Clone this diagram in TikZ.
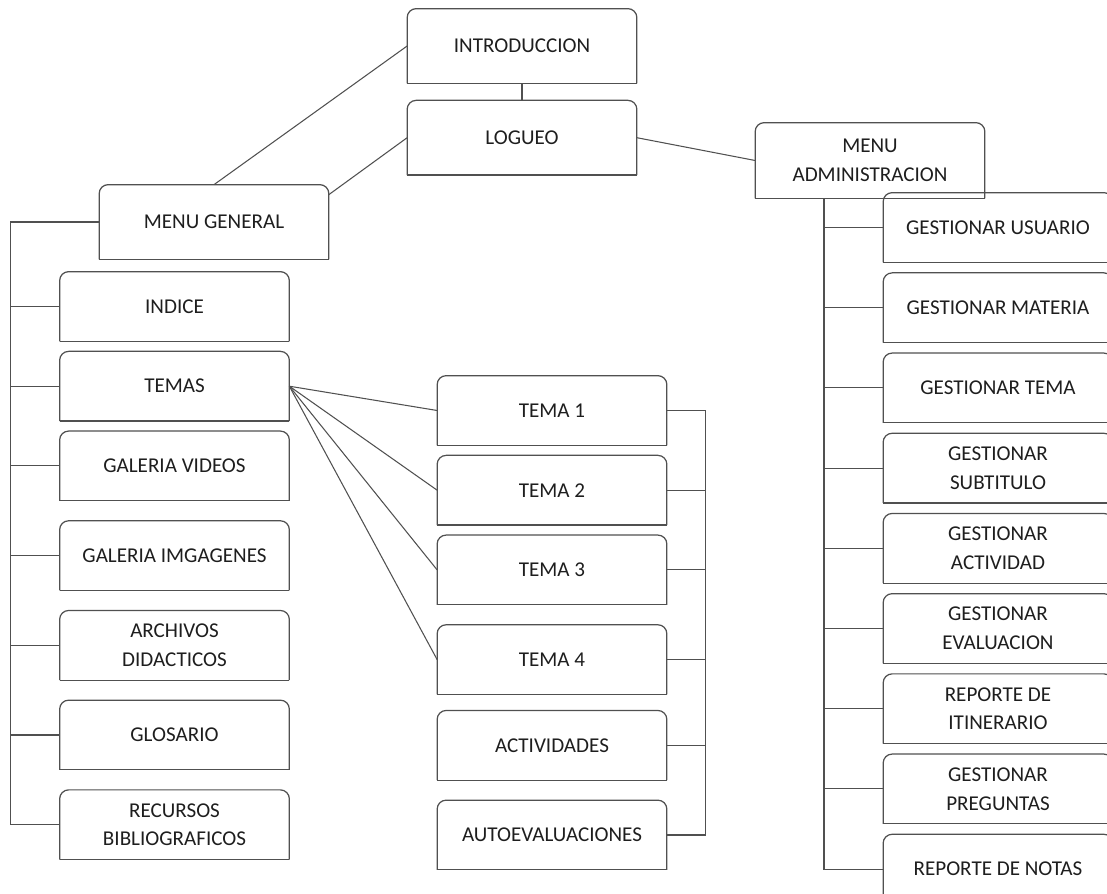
\documentclass[tikz,border=0pt]{standalone}
\usepackage{fontspec}
\setmainfont{Carlito}
\usetikzlibrary{positioning}
\definecolor{ink}{HTML}{1E1E1E}
\definecolor{rule}{HTML}{505050}

\begin{document}
\begin{tikzpicture}[
 node distance=2mm,
 item/.style={minimum width=45.8mm,minimum height=13.8mm,inner sep=0pt,align=center,text=ink,font=\fontsize{12}{16.4}\selectfont},
 head/.style={item,minimum height=14.8mm},
 link/.style={draw=rule,line width=0.6pt},
 frame/.style={draw=rule,line width=0.7pt,rounded corners=1.8mm}
]
\useasboundingbox (0,0) rectangle (221.4mm,-178.8mm);
\node[head] (intro) at (104.4mm,-9.2mm) {INTRODUCCION};
\node[head,below=3.4mm of intro] (logueo) {LOGUEO};
\node[head] (mgeneral) at (42.8mm,-44.4mm) {MENU GENERAL};
\node[head,minimum height=15mm] (madmin) at (174mm,-32.1mm) {MENU\\ADMINISTRACION};
% menu general
\node[item] (indice) at (34.9mm,-61.3mm) {INDICE};
\node[item,below=of indice] (temas) {TEMAS};
\node[item,below=of temas] (videos) {GALERIA VIDEOS};
\node[item,below=4mm of videos] (imagenes) {GALERIA IMGAGENES};
\node[item,below=4mm of imagenes] (archivos) {ARCHIVOS\\DIDACTICOS};
\node[item,below=4mm of archivos] (glosario) {GLOSARIO};
\node[item,below=4mm of glosario] (recursos) {RECURSOS\\BIBLIOGRAFICOS};
% temas
\node[item] (tema1) at (110.4mm,-82.1mm) {TEMA 1};
\node[item,below=of tema1] (tema2) {TEMA 2};
\node[item,below=of tema2] (tema3) {TEMA 3};
\node[item,below=4mm of tema3] (tema4) {TEMA 4};
\node[item,below=3.2mm of tema4] (actividades) {ACTIVIDADES};
\node[item,below=4mm of actividades] (autoeval) {AUTOEVALUACIONES};
% menu administracion
\node[item] (usuario) at (199.6mm,-45.5mm) {GESTIONAR USUARIO};
\node[item,below=2.1mm of usuario] (materia) {GESTIONAR MATERIA};
\node[item,below=2.1mm of materia] (gtema) {GESTIONAR TEMA};
\node[item,below=2.1mm of gtema] (subtitulo) {GESTIONAR\\SUBTITULO};
\node[item,below=2.1mm of subtitulo] (actividad) {GESTIONAR\\ACTIVIDAD};
\node[item,below=2.1mm of actividad] (evaluacion) {GESTIONAR\\EVALUACION};
\node[item,below=2.1mm of evaluacion] (itinerario) {REPORTE DE\\ITINERARIO};
\node[item,below=2.1mm of itinerario] (preguntas) {GESTIONAR\\PREGUNTAS};
\node[item,below=2.1mm of preguntas] (notas) {REPORTE DE NOTAS};

\foreach \n in {intro,logueo,mgeneral,madmin,indice,temas,videos,imagenes,archivos,glosario,recursos,tema1,tema2,tema3,tema4,actividades,autoeval,usuario,materia,gtema,subtitulo,actividad,evaluacion,itinerario,preguntas,notas}{
  \draw[frame] (\n.south west) -- (\n.north west) -- (\n.north east) -- (\n.south east);
  \draw[frame,sharp corners] (\n.south west) -- (\n.south east);
}

\draw[link] (intro) -- (logueo);
\draw[link] (mgeneral.north) -- (intro.west);
\draw[link] (logueo.west) -- ([yshift=-2mm]mgeneral.north east);
\draw[link] (logueo.east) -- (madmin.west);

\coordinate (lbus) at ([xshift=-17.8mm]mgeneral.west);
\draw[link] (mgeneral.west) -- (lbus) |- (recursos.west);
\foreach \n in {indice,temas,videos,imagenes,archivos,glosario}
  \draw[link] (\n.west) -- (\n.west -| lbus);

\foreach \n in {tema1,tema2,tema3,tema4}
  \draw[link] (temas.east) -- (\n.west);
\coordinate (mbus) at ([xshift=7.8mm]tema1.east);
\draw[link] (tema1.east) -- (mbus) |- (autoeval.east);
\foreach \n in {tema2,tema3,tema4,actividades}
  \draw[link] (\n.east) -- (\n.east -| mbus);

\coordinate (abus) at ([xshift=-9.2mm]madmin.south);
\draw[link] (abus) |- (notas.west);
\foreach \n in {usuario,materia,gtema,subtitulo,actividad,evaluacion,itinerario,preguntas}
  \draw[link] (\n.west) -- (\n.west -| abus);
\end{tikzpicture}
\end{document}
